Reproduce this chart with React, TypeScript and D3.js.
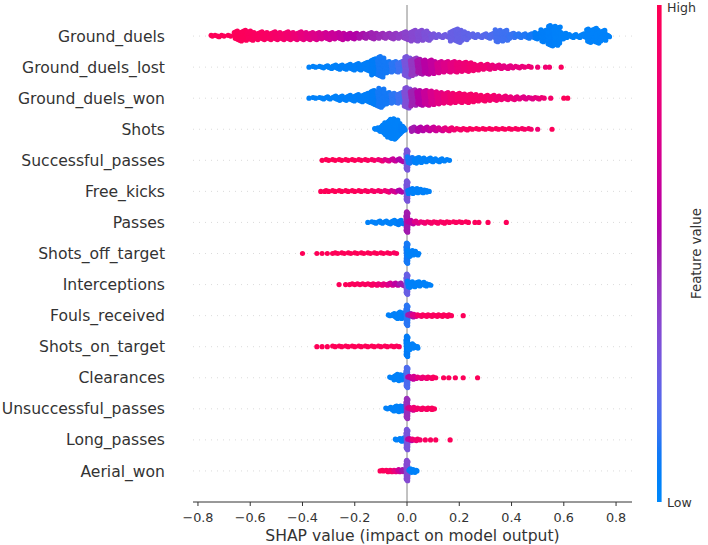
import React from "react";
import * as d3 from "d3";

// [SHAP value, number of points, feature value (0 = low, 1 = high), optional half-spread]
type Bin = [number, number, number, number?];

const features = [
  "Ground_duels",
  "Ground_duels_lost",
  "Ground_duels_won",
  "Shots",
  "Successful_passes",
  "Free_kicks",
  "Passes",
  "Shots_off_target",
  "Interceptions",
  "Fouls_received",
  "Shots_on_target",
  "Clearances",
  "Unsuccessful_passes",
  "Long_passes",
  "Aerial_won",
];

const xTicks = [-0.8, -0.6, -0.4, -0.2, 0.0, 0.2, 0.4, 0.6, 0.8];
const xLabel = "SHAP value (impact on model output)";
const colorLabel = "Feature value";
const colorHigh = "High";
const colorLow = "Low";

const groundDuels: Bin[] = [
  [-0.745, 2, 0.98, 0.006], [-0.725, 3, 0.98], [-0.7, 2, 0.97], [-0.675, 2, 0.97],
  [-0.65, 14, 0.97], [-0.625, 16, 0.96], [-0.6, 14, 0.95], [-0.575, 11, 0.94],
  [-0.55, 12, 0.93], [-0.525, 11, 0.92], [-0.5, 12, 0.9], [-0.475, 11, 0.89],
  [-0.45, 12, 0.87], [-0.425, 11, 0.84], [-0.4, 12, 0.8], [-0.375, 11, 0.77],
  [-0.35, 11, 0.74], [-0.325, 10, 0.71], [-0.3, 11, 0.68], [-0.275, 10, 0.65],
  [-0.25, 11, 0.62], [-0.225, 9, 0.58], [-0.2, 9, 0.56], [-0.175, 8, 0.53],
  [-0.15, 8, 0.5], [-0.125, 10, 0.48], [-0.1, 8, 0.46], [-0.075, 8, 0.44],
  [-0.05, 9, 0.42], [-0.025, 8, 0.4], [0, 12, 0.38], [0.025, 16, 0.36],
  [0.05, 16, 0.34], [0.075, 14, 0.32], [0.1, 7, 0.3], [0.125, 5, 0.28],
  [0.15, 5, 0.27], [0.175, 16, 0.25], [0.2, 20, 0.24], [0.225, 12, 0.23],
  [0.25, 6, 0.22], [0.275, 5, 0.21], [0.3, 6, 0.2], [0.325, 8, 0.18],
  [0.35, 18, 0.16], [0.375, 16, 0.15], [0.4, 8, 0.14], [0.425, 6, 0.12],
  [0.45, 6, 0.11], [0.475, 7, 0.1], [0.5, 10, 0.08], [0.525, 18, 0.07],
  [0.55, 30, 0.06], [0.575, 28, 0.05], [0.6, 10, 0.05], [0.625, 5, 0.05],
  [0.65, 5, 0.05], [0.675, 6, 0.04], [0.7, 20, 0.04], [0.725, 22, 0.04],
  [0.75, 16, 0.04], [0.772, 3, 0.04, 0.006],
];

const groundDuelsLost: Bin[] = [
  [-0.375, 1, 0.05], [-0.35, 2, 0.05], [-0.325, 3, 0.05], [-0.3, 5, 0.05],
  [-0.275, 6, 0.05], [-0.25, 7, 0.06], [-0.225, 8, 0.06], [-0.2, 9, 0.06],
  [-0.175, 10, 0.07], [-0.15, 14, 0.07], [-0.125, 24, 0.08], [-0.1, 30, 0.1],
  [-0.075, 18, 0.1], [-0.05, 16, 0.12], [-0.025, 16, 0.15], [0, 30, 0.3],
  [0.025, 26, 0.42], [0.05, 22, 0.52], [0.075, 21, 0.58], [0.1, 20, 0.62],
  [0.125, 17, 0.7], [0.15, 16, 0.74], [0.175, 16, 0.78], [0.2, 15, 0.82],
  [0.225, 14, 0.84], [0.25, 12, 0.86], [0.275, 9, 0.86], [0.3, 8, 0.85],
  [0.325, 7, 0.82], [0.35, 6, 0.8], [0.375, 5, 0.78], [0.4, 4, 0.78],
  [0.425, 3, 0.8], [0.45, 2, 0.82], [0.475, 2, 0.85], [0.5, 1, 0.85],
  [0.53, 1, 0.85], [0.545, 1, 0.88], [0.59, 1, 0.95],
];

const groundDuelsWon: Bin[] = [
  [-0.375, 1, 0.05], [-0.35, 2, 0.05], [-0.325, 3, 0.05], [-0.3, 4, 0.05],
  [-0.275, 6, 0.05], [-0.25, 7, 0.06], [-0.225, 8, 0.06], [-0.2, 9, 0.06],
  [-0.175, 11, 0.07], [-0.15, 14, 0.07], [-0.125, 22, 0.08], [-0.1, 28, 0.1],
  [-0.075, 18, 0.1], [-0.05, 15, 0.12], [-0.025, 16, 0.15], [0, 30, 0.33],
  [0.025, 24, 0.48], [0.05, 22, 0.56], [0.075, 22, 0.64], [0.1, 20, 0.72],
  [0.125, 18, 0.77], [0.15, 16, 0.82], [0.175, 15, 0.86], [0.2, 14, 0.88],
  [0.225, 13, 0.89], [0.25, 12, 0.9], [0.275, 10, 0.9], [0.3, 9, 0.9],
  [0.325, 8, 0.88], [0.35, 7, 0.86], [0.375, 6, 0.84], [0.4, 5, 0.82],
  [0.425, 4, 0.8], [0.45, 4, 0.76], [0.475, 3, 0.76], [0.5, 3, 0.8],
  [0.525, 2, 0.85], [0.55, 1, 0.9], [0.6, 1, 0.97], [0.615, 1, 0.97],
];

const shots: Bin[] = [
  [-0.12, 2, 0.05, 0.005], [-0.11, 4, 0.05, 0.005], [-0.1, 7, 0.05, 0.005],
  [-0.09, 12, 0.05, 0.005], [-0.08, 18, 0.05, 0.005], [-0.07, 24, 0.05, 0.005],
  [-0.06, 28, 0.05, 0.005], [-0.05, 30, 0.05, 0.005], [-0.04, 26, 0.05, 0.005],
  [-0.03, 18, 0.05, 0.005], [-0.02, 10, 0.06, 0.005], [-0.01, 4, 0.06, 0.005],
  [0.025, 7, 0.5], [0.05, 7, 0.55], [0.075, 6, 0.6], [0.1, 6, 0.65],
  [0.125, 5, 0.7], [0.15, 5, 0.78], [0.175, 4, 0.85], [0.2, 3, 0.9],
  [0.225, 3, 0.92], [0.25, 2, 0.95], [0.275, 2, 0.95], [0.3, 2, 0.95],
  [0.325, 2, 0.95], [0.35, 2, 0.95], [0.375, 2, 0.95], [0.4, 2, 0.95],
  [0.425, 2, 0.94], [0.45, 2, 0.92], [0.475, 2, 0.9], [0.5, 1, 0.85],
  [0.555, 1, 0.97],
];

const successfulPasses: Bin[] = [
  [-0.325, 1, 0.98], [-0.3, 2, 0.98], [-0.275, 2, 0.98], [-0.25, 2, 0.98],
  [-0.225, 2, 0.97], [-0.2, 2, 0.97], [-0.175, 2, 0.96], [-0.15, 2, 0.95],
  [-0.125, 2, 0.92], [-0.1, 3, 0.85], [-0.075, 3, 0.75], [-0.05, 4, 0.65],
  [-0.025, 5, 0.55], [0, 30, 0.3, 0.004], [0.0125, 10, 0.1], [0.0375, 9, 0.05],
  [0.0625, 7, 0.05], [0.0875, 6, 0.05], [0.1125, 5, 0.05], [0.1375, 4, 0.05],
  [0.1625, 2, 0.05],
];

const freeKicks: Bin[] = [
  [-0.33, 1, 0.98], [-0.315, 1, 0.98], [-0.3, 2, 0.98], [-0.275, 2, 0.98],
  [-0.25, 2, 0.98], [-0.225, 2, 0.97], [-0.2, 2, 0.97], [-0.175, 2, 0.96],
  [-0.15, 2, 0.95], [-0.125, 2, 0.92], [-0.1, 2, 0.9], [-0.075, 3, 0.85],
  [-0.05, 3, 0.7], [-0.025, 4, 0.55], [0, 30, 0.3, 0.004], [0.0125, 8, 0.08],
  [0.03, 8, 0.05], [0.05, 6, 0.05], [0.07, 4, 0.05], [0.085, 2, 0.05],
];

const passes: Bin[] = [
  [-0.15, 1, 0.05], [-0.125, 3, 0.05], [-0.1, 4, 0.05], [-0.075, 5, 0.05],
  [-0.05, 6, 0.05], [-0.025, 7, 0.08], [0, 30, 0.5, 0.004], [0.0125, 6, 0.6],
  [0.0375, 4, 0.75], [0.0625, 3, 0.85], [0.0875, 3, 0.9], [0.1125, 3, 0.92],
  [0.1375, 3, 0.93], [0.1625, 2, 0.95], [0.1875, 2, 0.95], [0.21, 2, 0.95],
  [0.235, 2, 0.96], [0.26, 1, 0.96], [0.275, 1, 0.96], [0.31, 1, 0.97],
  [0.38, 1, 0.97],
];

const shotsOffTarget: Bin[] = [
  [-0.4, 1, 0.98], [-0.345, 1, 0.98], [-0.325, 1, 0.98], [-0.305, 1, 0.98],
  [-0.285, 1, 0.98], [-0.265, 2, 0.98], [-0.24, 2, 0.98], [-0.215, 2, 0.98],
  [-0.19, 2, 0.98], [-0.165, 2, 0.98], [-0.14, 2, 0.98], [-0.115, 2, 0.98],
  [-0.09, 2, 0.97], [-0.065, 2, 0.97], [-0.04, 2, 0.95], [0, 30, 0.1, 0.004],
  [0.0125, 10, 0.05], [0.03, 6, 0.05], [0.045, 2, 0.05],
];

const interceptions: Bin[] = [
  [-0.26, 1, 0.97], [-0.235, 1, 0.97], [-0.22, 1, 0.97], [-0.2, 2, 0.96],
  [-0.18, 2, 0.95], [-0.16, 2, 0.95], [-0.14, 3, 0.94], [-0.12, 3, 0.92],
  [-0.1, 3, 0.85], [-0.08, 3, 0.8], [-0.06, 4, 0.7], [-0.04, 4, 0.6],
  [-0.02, 5, 0.5], [0, 30, 0.25, 0.004], [0.0125, 10, 0.05], [0.0375, 8, 0.05],
  [0.0625, 6, 0.05], [0.085, 3, 0.05],
];

const foulsReceived: Bin[] = [
  [-0.065, 2, 0.05, 0.008], [-0.05, 6, 0.05, 0.008], [-0.035, 9, 0.05, 0.008],
  [-0.02, 10, 0.05, 0.008], [-0.007, 8, 0.06, 0.006], [0, 30, 0.12, 0.004],
  [0.0125, 6, 0.5], [0.03, 4, 0.75], [0.05, 3, 0.9], [0.07, 3, 0.95],
  [0.09, 3, 0.95], [0.11, 3, 0.95], [0.13, 3, 0.96], [0.15, 3, 0.96],
  [0.17, 2, 0.96], [0.215, 1, 0.97],
];

const shotsOnTarget: Bin[] = [
  [-0.345, 1, 0.98], [-0.325, 1, 0.98], [-0.305, 1, 0.98], [-0.275, 2, 0.98],
  [-0.25, 2, 0.98], [-0.225, 2, 0.98], [-0.2, 2, 0.98], [-0.175, 2, 0.98],
  [-0.15, 2, 0.98], [-0.125, 2, 0.98], [-0.1, 2, 0.97], [-0.075, 2, 0.97],
  [-0.05, 2, 0.97], [-0.03, 2, 0.96], [0, 30, 0.08, 0.004], [0.0125, 10, 0.05],
  [0.03, 5, 0.05], [0.04, 2, 0.05],
];

const clearances: Bin[] = [
  [-0.06, 2, 0.05, 0.008], [-0.045, 7, 0.05, 0.008], [-0.03, 10, 0.05, 0.008],
  [-0.015, 8, 0.06, 0.008], [0, 30, 0.18, 0.004], [0.0125, 5, 0.6],
  [0.03, 4, 0.7], [0.05, 3, 0.8], [0.07, 3, 0.85], [0.09, 3, 0.9],
  [0.11, 2, 0.95], [0.14, 1, 0.96], [0.16, 1, 0.96], [0.185, 1, 0.96],
  [0.215, 1, 0.97], [0.27, 1, 0.97],
];

const unsuccessfulPasses: Bin[] = [
  [-0.075, 2, 0.05, 0.008], [-0.06, 5, 0.05, 0.008], [-0.045, 8, 0.05, 0.008],
  [-0.03, 9, 0.05, 0.008], [-0.015, 8, 0.06, 0.008], [0, 30, 0.45, 0.004],
  [0.0125, 5, 0.7], [0.03, 4, 0.85], [0.05, 3, 0.9], [0.07, 3, 0.92],
  [0.09, 3, 0.95], [0.105, 2, 0.95],
];

const longPasses: Bin[] = [
  [-0.04, 2, 0.05, 0.006], [-0.025, 5, 0.05, 0.006], [-0.012, 6, 0.06, 0.006],
  [0, 30, 0.3, 0.004], [0.0125, 4, 0.6], [0.03, 3, 0.85], [0.05, 2, 0.9],
  [0.07, 1, 0.95], [0.09, 1, 0.95], [0.11, 1, 0.96], [0.165, 1, 0.97],
];

const aerialWon: Bin[] = [
  [-0.103, 1, 0.97], [-0.09, 2, 0.97, 0.006], [-0.075, 3, 0.95, 0.006],
  [-0.06, 3, 0.9, 0.006], [-0.045, 3, 0.8, 0.006], [-0.03, 4, 0.65, 0.006],
  [-0.015, 4, 0.5, 0.006], [0, 30, 0.35, 0.004], [0.012, 6, 0.05, 0.006],
  [0.025, 5, 0.05, 0.006], [0.038, 2, 0.05, 0.004],
];

const featureBins: Bin[][] = [
  groundDuels, groundDuelsLost, groundDuelsWon, shots, successfulPasses,
  freeKicks, passes, shotsOffTarget, interceptions, foulsReceived,
  shotsOnTarget, clearances, unsuccessfulPasses, longPasses, aerialWon,
];

// SHAP red_blue colormap (LCH interpolation)
function shapColor(t: number): string {
  const h = 266.93 + t * (380.32 - 266.93);
  const c = 70 + 20 * t;
  const l = t < 0.5 ? 54 - 28 * t : 40 + 28 * (t - 0.5);
  return d3.hcl(h % 360, c, l).formatHex();
}

const W = 708;
const H = 545;
const left = 193;
const right = 632;
const top = 5;
const bottom = 502;
const FONT = "DejaVu Sans, sans-serif";

export default function App() {
  const x = d3.scaleLinear().domain([-0.819, 0.861]).range([left, right]);
  const n = features.length;
  const y = d3.scaleLinear().domain([-1, n]).range([bottom, top]);
  const rowH = Math.abs(y(1) - y(0));

  const dots: { cx: number; cy: number; fill: string }[] = [];
  features.forEach((f, i) => {
    const bins = featureBins[i];
    const yc = y(n - 1 - i);
    const nmax = d3.max(bins, (b) => b[1]) as number;
    const lmax = Math.ceil((nmax - 1) / 2);
    const unit = (0.9 * 0.4 * rowH) / (lmax + 1);
    bins.forEach((b) => {
      const [v, cnt, col, spread] = b;
      const w = spread === undefined ? 0.0125 : spread;
      const fill = shapColor(col);
      for (let k = 0; k < cnt; k++) {
        const layer = Math.ceil(k / 2) * (k % 2 === 0 ? 1 : -1);
        const frac = (k * 0.618034 + 0.5) % 1;
        const dv = cnt === 1 ? 0 : w * (2 * frac - 1);
        dots.push({ cx: x(v + dv), cy: yc + layer * unit, fill });
      }
    });
  });

  const stops = d3.range(0, 1.0001, 0.05);

  return (
    <svg
      width={W}
      height={H}
      style={{ position: "absolute", left: 0, top: 0, background: "#fff" }}
      fontFamily={FONT}
    >
      <defs>
        <linearGradient id="cbar" x1="0" y1="1" x2="0" y2="0">
          {stops.map((s) => (
            <stop key={s} offset={s} stopColor={shapColor(s)} />
          ))}
        </linearGradient>
      </defs>

      {/* row guide lines */}
      {features.map((f, i) => (
        <line
          key={"g" + f}
          x1={left}
          x2={right}
          y1={y(n - 1 - i)}
          y2={y(n - 1 - i)}
          stroke="#cccccc"
          strokeWidth={0.7}
          strokeDasharray="1,5"
        />
      ))}

      {/* zero line */}
      <line x1={x(0)} x2={x(0)} y1={top} y2={bottom} stroke="#999999" strokeWidth={1.2} />

      {/* dots */}
      <g>
        {dots.map((d, i) => (
          <circle key={i} cx={d.cx} cy={d.cy} r={2.6} fill={d.fill} />
        ))}
      </g>

      {/* feature labels */}
      {features.map((f, i) => (
        <text
          key={"l" + f}
          x={165}
          y={y(n - 1 - i)}
          dy="0.36em"
          textAnchor="end"
          fontSize={15.6}
          fill="#333333"
        >
          {f}
        </text>
      ))}

      {/* x axis */}
      <line x1={left} x2={right} y1={bottom} y2={bottom} stroke="#333333" strokeWidth={1} />
      {xTicks.map((t) => (
        <g key={"t" + t}>
          <line x1={x(t)} x2={x(t)} y1={bottom} y2={bottom + 4} stroke="#333333" strokeWidth={1} />
          <text x={x(t)} y={522} textAnchor="middle" fontSize={12.8} fill="#333333">
            {t.toFixed(1).replace("-", "\u2212")}
          </text>
        </g>
      ))}
      <text x={(left + right) / 2} y={541} textAnchor="middle" fontSize={15.6} fill="#333333">
        {xLabel}
      </text>

      {/* colorbar */}
      <rect x={657} y={top} width={4.6} height={bottom - top} fill="url(#cbar)" />
      <text x={667} y={12} fontSize={12.6} fill="#333333">
        {colorHigh}
      </text>
      <text x={667} y={507} fontSize={12.6} fill="#333333">
        {colorLow}
      </text>
      <text
        transform={`translate(701, ${(top + bottom) / 2}) rotate(-90)`}
        textAnchor="middle"
        fontSize={13.3}
        fill="#333333"
      >
        {colorLabel}
      </text>
    </svg>
  );
}
